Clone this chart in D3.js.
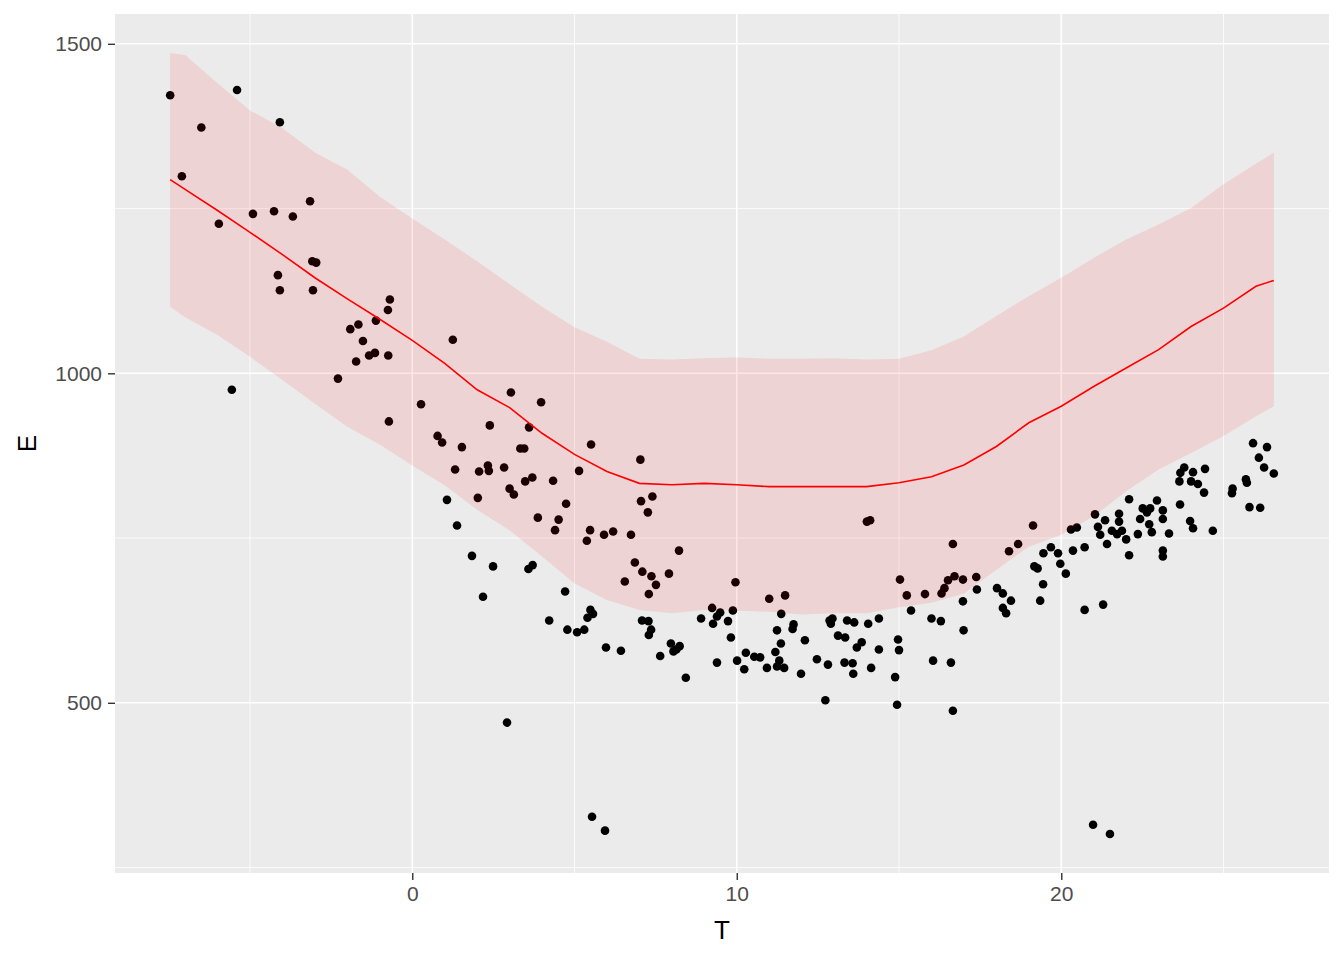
<!DOCTYPE html>
<html>
<head>
<meta charset="utf-8">
<script src="https://cdn.jsdelivr.net/npm/d3@7"></script>
<style>
    body { margin: 0; background: #fff; }
    svg text { font-family: "Liberation Sans", Arial, sans-serif; }
</style>
</head>
<body>
<div id="chart"></div>
<script>
// observed points (T, E)
const obsT = [
    -7.46, -5.40, -6.50, -4.08, -7.10, -5.96, -4.91, -4.26, -3.68, -3.15,
    -3.08, -2.96, -4.14, -4.08, -3.06, -0.69, -0.75, -1.12, -1.91, -1.66,
    -1.52, -1.33, -1.15, -0.74, -1.73, -2.29, -5.56, 0.27, -0.72, 0.78,
    1.25, 3.04, 3.97, 2.39, 3.60, 0.92, 1.53, 3.33, 3.45, 5.51,
    7.03, 1.32, 2.06, 2.33, 2.36, 2.83, 5.14, 4.34, 3.48, 3.70,
    3.00, 3.13, 2.02, 1.07, 7.40, 7.05, 7.26, 4.74, 1.38, 3.87,
    4.51, 4.40, 5.48, 5.38, 5.91, 6.19, 6.74, 8.22, 1.84, 2.49,
    3.58, 3.71, 6.86, 7.09, 7.37, 7.51, 7.91, 6.55, 7.29, 2.18,
    4.71, 5.49, 5.57, 5.40, 4.22, 4.78, 5.08, 5.30, 5.97, 6.43,
    7.08, 7.28, 7.36, 7.29, 7.97, 8.05, 8.24, 7.64, 8.43,
    2.92,
    9.96, 11.00, 11.49, 14.01, 14.11, 16.66, 15.03, 15.24, 15.80, 16.31,
    16.40, 16.51, 16.71, 15.37, 16.00, 16.29, 9.24, 9.49, 9.39, 9.27,
    9.88, 8.90, 9.73, 9.82, 8.14, 9.39, 10.01, 10.28, 10.23, 10.54,
    10.72, 10.93, 11.19, 11.31, 11.24, 11.46, 11.36, 11.24, 11.37, 11.75,
    11.72, 12.10, 11.98, 12.47, 12.81, 12.73, 12.86, 12.95, 12.90, 13.40,
    13.62, 14.05, 14.38, 13.12, 13.34, 13.32, 13.57, 13.59, 13.70, 13.85,
    14.14, 14.38, 14.97, 15.00, 14.88, 14.94, 16.05, 16.60, 16.66,
    18.39, 18.67, 19.13, 20.30, 20.48, 16.97, 17.38, 17.40, 16.97, 16.99,
    18.02, 18.20, 18.45, 18.20, 18.30, 19.17, 19.27, 19.45, 19.68, 19.90,
    19.97, 20.14, 19.44, 19.35, 20.36, 20.72, 20.72, 21.29, 21.04, 21.35,
    21.13, 21.20, 21.41, 21.78, 21.78, 21.56, 21.72, 21.87, 22.00, 22.09,
    22.09, 22.36, 22.43, 22.51, 22.74, 22.64, 22.71, 22.79, 22.95, 23.13,
    23.13, 23.32, 23.13, 23.13, 23.66, 23.97, 24.06, 24.67, 23.64, 23.67,
    23.79, 24.06, 24.00, 24.21, 24.43, 24.40, 25.28, 25.26, 25.69, 25.72,
    25.80, 26.13, 25.91, 26.34, 26.09, 26.25, 26.55,
    5.54, 5.94, 20.98, 21.50
];
const obsE = [
    1422, 1430, 1373, 1381, 1299, 1227, 1242, 1246, 1238, 1261,
    1170, 1168, 1149, 1126, 1126, 1112, 1096, 1080, 1067, 1074,
    1049, 1027, 1031, 1027, 1018, 992, 975, 953, 927, 905,
    1051, 971, 956, 921, 918, 895, 888, 886, 886, 892,
    869, 854, 851, 860, 852, 857, 852, 837, 836, 842,
    825, 816, 811, 808, 813, 806, 789, 802, 769, 781,
    778, 762, 762, 746, 755, 760, 755, 731, 723, 707,
    703, 709, 713, 699, 692, 679, 696, 684, 665, 661,
    669, 641, 635, 629, 625, 611, 607, 611, 584, 579,
    625, 624, 611, 603, 590, 578, 586, 571, 538,
    470,
    683, 658, 663, 775, 777, 741, 687, 663, 665, 666,
    674, 686, 692, 640, 628, 624, 644, 637, 631, 620,
    640, 628, 624, 599, 581, 561, 564, 576, 551, 570,
    569, 553, 577, 564, 555, 553, 590, 610, 635, 619,
    612, 595, 544, 566, 558, 504, 625, 628, 620, 625,
    622, 620, 628, 602, 599, 561, 560, 544, 584, 592,
    553, 581, 596, 580, 539, 497, 564, 561, 488,
    730, 741, 769, 763, 766, 687, 691, 672, 654, 610,
    674, 666, 655, 644, 636, 707, 704, 727, 736, 727,
    711, 696, 680, 655, 731, 736, 641, 649, 786, 777,
    767, 755, 741, 787, 775, 761, 756, 761, 748, 809,
    724, 756, 779, 795, 795, 789, 771, 759, 807, 792,
    779, 757, 731, 722, 801, 776, 765, 761, 836, 849,
    857, 850, 836, 832, 855, 819, 825, 818, 839, 834,
    797, 796, 894, 888, 872, 857, 848,
    327, 306, 315, 301
];

// fitted curve and band
const fitT = [-7.46, -7, -6, -5, -4, -3, -2, -1, 0, 1, 2, 3, 4, 5, 6, 7, 8, 9, 10,
    11, 12, 13, 14, 15, 16, 17, 18, 19, 20, 21, 22, 23, 24, 25, 26, 26.55];
const fitMean = [1294, 1279, 1247, 1214, 1180, 1145, 1113, 1082, 1050, 1015, 975, 948, 909,
    877, 851, 833, 831, 833, 831, 828, 828, 828, 828, 834, 843, 861, 889, 925, 950, 980,
    1008, 1036, 1071, 1099, 1132, 1141];
const fitUpper = [1486, 1483, 1440, 1399, 1372, 1335, 1309, 1268, 1235, 1203, 1170, 1135, 1101,
    1070, 1048, 1022, 1021, 1023, 1024, 1022, 1022, 1023, 1021, 1022, 1035, 1056, 1087, 1117,
    1145, 1175, 1203, 1226, 1251, 1287, 1318, 1335];
const fitLower = [1101, 1085, 1058, 1025, 990, 954, 919, 892, 860, 830, 793, 762, 722,
    681, 656, 641, 636, 641, 640, 638, 634, 636, 636, 645, 652, 666, 702, 737, 755, 783,
    821, 854, 879, 905, 935, 950];

const xMajor = [0, 10, 20];
const xMinor = [-5, 5, 15, 25];
const yMajor = [500, 1000, 1500];
const yMinor = [250, 750, 1250];

drawChart();

function expand(ext) {
    const pad = (ext[1] - ext[0]) * 0.05;
    return [ext[0] - pad, ext[1] + pad];
}

function drawChart() {
    const width = 1344, height = 960;
    const panel = { left: 115, right: 1329, top: 14, bottom: 873 };

    const points = obsT.map((t, i) => ({ t: t, e: obsE[i] }));
    const band = fitT.map((t, i) => ({ t: t, mean: fitMean[i], lo: fitLower[i], hi: fitUpper[i] }));

    const xDomain = expand(d3.extent(obsT.concat(fitT)));
    const yDomain = expand(d3.extent(obsE.concat(fitLower, fitUpper)));

    const x = d3.scaleLinear().domain(xDomain).range([panel.left, panel.right]);
    const y = d3.scaleLinear().domain(yDomain).range([panel.bottom, panel.top]);

    const svg = d3.select("#chart").append("svg")
        .attr("width", width)
        .attr("height", height);

    svg.append("rect")
        .attr("width", width).attr("height", height)
        .attr("fill", "#fff");

    // panel background
    svg.append("rect")
        .attr("x", panel.left).attr("y", panel.top)
        .attr("width", panel.right - panel.left)
        .attr("height", panel.bottom - panel.top)
        .attr("fill", "#EBEBEB");

    const grid = svg.append("g");
    grid.selectAll(".vminor").data(xMinor).enter().append("line")
        .attr("x1", d => x(d)).attr("x2", d => x(d))
        .attr("y1", panel.top).attr("y2", panel.bottom)
        .attr("stroke", "#fff").attr("stroke-width", 0.8);
    grid.selectAll(".hminor").data(yMinor).enter().append("line")
        .attr("y1", d => y(d)).attr("y2", d => y(d))
        .attr("x1", panel.left).attr("x2", panel.right)
        .attr("stroke", "#fff").attr("stroke-width", 0.8);
    grid.selectAll(".vmajor").data(xMajor).enter().append("line")
        .attr("x1", d => x(d)).attr("x2", d => x(d))
        .attr("y1", panel.top).attr("y2", panel.bottom)
        .attr("stroke", "#fff").attr("stroke-width", 1.6);
    grid.selectAll(".hmajor").data(yMajor).enter().append("line")
        .attr("y1", d => y(d)).attr("y2", d => y(d))
        .attr("x1", panel.left).attr("x2", panel.right)
        .attr("stroke", "#fff").attr("stroke-width", 1.6);

    // points go under the band, so the band tints them
    svg.append("g").selectAll("circle")
        .data(points)
        .enter().append("circle")
        .attr("cx", d => x(d.t))
        .attr("cy", d => y(d.e))
        .attr("r", 4.3)
        .attr("fill", "#000");

    const area = d3.area()
        .x(d => x(d.t))
        .y0(d => y(d.lo))
        .y1(d => y(d.hi));
    svg.append("path")
        .datum(band)
        .attr("d", area)
        .attr("fill", "red")
        .attr("fill-opacity", 0.1);

    const line = d3.line()
        .x(d => x(d.t))
        .y(d => y(d.mean));
    svg.append("path")
        .datum(band)
        .attr("d", line)
        .attr("fill", "none")
        .attr("stroke", "red")
        .attr("stroke-width", 1.6);

    // axes
    const xAxis = d3.axisBottom(x).tickValues(xMajor).tickFormat(d3.format("d"))
        .tickSize(7).tickPadding(6);
    const gx = svg.append("g")
        .attr("transform", `translate(0,${panel.bottom})`)
        .call(xAxis);
    gx.select(".domain").remove();
    gx.selectAll(".tick line").attr("stroke", "#333").attr("stroke-width", 1.4);
    gx.selectAll(".tick text").attr("fill", "#4D4D4D").style("font-size", "21px");

    const yAxis = d3.axisLeft(y).tickValues(yMajor).tickFormat(d3.format("d"))
        .tickSize(7).tickPadding(6);
    const gy = svg.append("g")
        .attr("transform", `translate(${panel.left},0)`)
        .call(yAxis);
    gy.select(".domain").remove();
    gy.selectAll(".tick line").attr("stroke", "#333").attr("stroke-width", 1.4);
    gy.selectAll(".tick text").attr("fill", "#4D4D4D").style("font-size", "21px");

    svg.append("text")
        .attr("x", (panel.left + panel.right) / 2)
        .attr("y", 939)
        .attr("text-anchor", "middle")
        .style("font-size", "26px")
        .text("T");

    svg.append("text")
        .attr("transform", `translate(36,${(panel.top + panel.bottom) / 2}) rotate(-90)`)
        .attr("text-anchor", "middle")
        .style("font-size", "26px")
        .text("E");
}
</script>
</body>
</html>
